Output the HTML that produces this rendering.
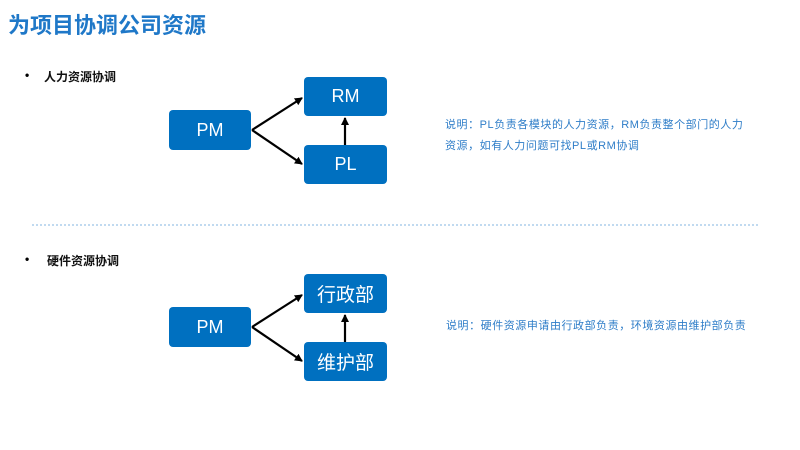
<!DOCTYPE html>
<html><head><meta charset="utf-8"><style>
body{margin:0;width:800px;height:450px;background:#fff;position:relative;overflow:hidden;font-family:"Liberation Sans","Noto Sans CJK SC",sans-serif}
.a{position:absolute;white-space:nowrap}
.box{position:absolute;background:#0070c0;border-radius:4px;color:#fff;font-size:18px;display:flex;align-items:center;justify-content:center}
.t{color:#2e7dc8;font-size:11px;letter-spacing:0.55px}
</style></head><body>
<div class="a" style="left:8px;top:8px;font-size:22px;font-weight:bold;color:#1f78c8">为项目协调公司资源</div>
<div class="a" style="left:25px;top:68px;font-size:12px;font-weight:bold">•</div>
<div class="a" style="left:44px;top:68px;font-size:12px;font-weight:bold;color:#111">人力资源协调</div>
<div class="a" style="left:25px;top:252px;font-size:12px;font-weight:bold">•</div>
<div class="a" style="left:47px;top:252px;font-size:12px;font-weight:bold;color:#111">硬件资源协调</div>
<div class="box" style="left:169px;top:110px;width:82px;height:40px">PM</div>
<div class="box" style="left:304px;top:77px;width:83px;height:39px">RM</div>
<div class="box" style="left:304px;top:145px;width:83px;height:39px">PL</div>
<div class="box" style="left:169px;top:307px;width:82px;height:40px">PM</div>
<div class="box" style="left:304px;top:274px;width:83px;height:39px;font-size:19px">行政部</div>
<div class="box" style="left:304px;top:342px;width:83px;height:39px;font-size:19px">维护部</div>
<svg class="a" style="left:0;top:0" width="800" height="450">
<defs><marker id="m" markerWidth="8" markerHeight="8" refX="7" refY="4" orient="auto" markerUnits="userSpaceOnUse"><path d="M0,0L8,4L0,8z" fill="#000"/></marker></defs>
<g stroke="#000" stroke-width="2.2" fill="none" marker-end="url(#m)">
<path d="M252,130L302,98"/><path d="M252,130L302,164"/><path d="M345,145L345,118"/>
<path d="M252,327L302,295"/><path d="M252,327L302,361"/><path d="M345,342L345,315"/>
</g>
<line x1="32" y1="225" x2="758" y2="225" stroke="#9cc3e6" stroke-width="1.2" stroke-dasharray="2,2"/>
</svg>
<div class="a t" style="left:445px;top:116px">说明：PL负责各模块的人力资源，RM负责整个部门的人力</div>
<div class="a t" style="left:445px;top:137px">资源，如有人力问题可找PL或RM协调</div>
<div class="a t" style="left:446px;top:317px">说明：硬件资源申请由行政部负责，环境资源由维护部负责</div>
</body></html>
